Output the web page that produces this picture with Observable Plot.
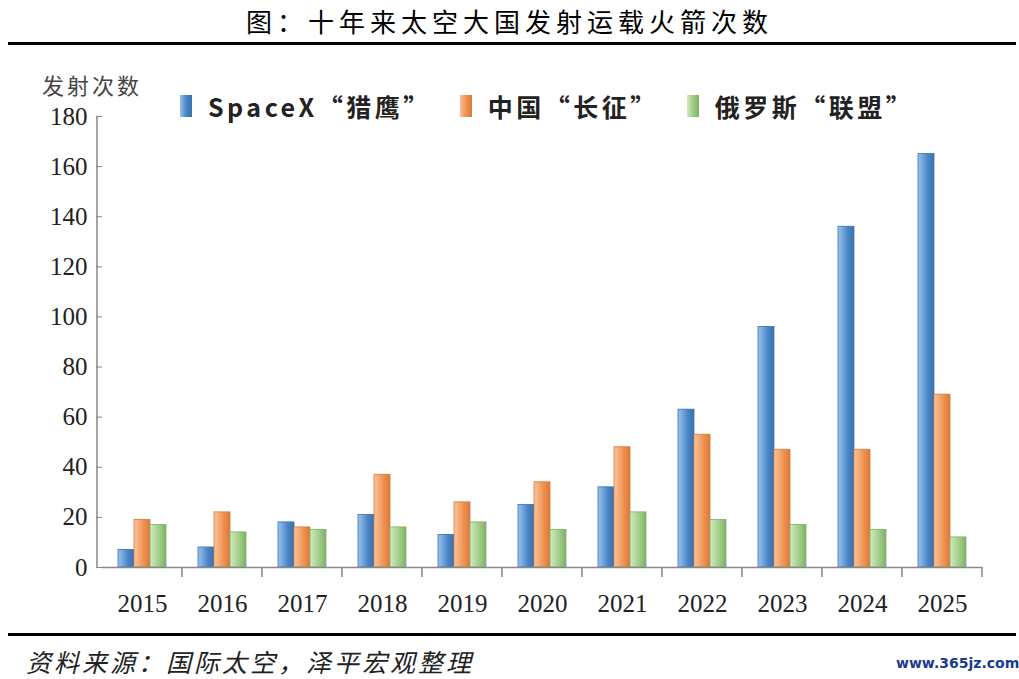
<!DOCTYPE html>
<html><head><meta charset="utf-8">
<script src="https://cdn.jsdelivr.net/npm/d3@7"></script>
<script src="https://cdn.jsdelivr.net/npm/@observablehq/plot@0.6"></script>
<style>
body{margin:0;background:#fff;}
#wrap{position:relative;width:1019px;height:679px;font-family:"Noto Sans CJK SC";}
.abs{position:absolute;white-space:nowrap;}
</style></head><body>
<div id="wrap">
<div class="abs" style="left:0;width:1019px;top:2px;text-align:center;font-size:26px;letter-spacing:5px;">图：十年来太空大国发射运载火箭次数</div>
<div class="abs" style="left:8px;width:1008px;top:42px;height:3px;background:#000"></div>
<div class="abs" style="left:42px;top:68px;font-size:22px;color:#444;letter-spacing:3px;">发射次数</div>
<div id="legend" class="abs" style="left:180px;top:88px;font-size:25px;font-weight:bold;color:#222;display:flex;letter-spacing:3.5px;"></div>
<div class="abs" style="left:8px;width:1008px;top:633px;height:3px;background:#000"></div>
<div class="abs" style="left:26px;top:643px;font-size:25px;font-style:italic;color:#222;letter-spacing:3px;">资料来源：国际太空，泽平宏观整理</div>
<div class="abs" style="left:896px;top:655px;font-size:14px;font-weight:bold;color:#1a3a8a;font-family:'DejaVu Sans'">www.365jz.com</div>
<div id="chart"></div>
</div>
<script>
const years=["2015","2016","2017","2018","2019","2020","2021","2022","2023","2024","2025"];
const seriesNames=["SpaceX“猎鹰”","中国“长征”","俄罗斯“联盟”"];
const spacex=[7,8,18,21,13,25,32,63,96,136,165];
const china=[19,22,16,37,26,34,48,53,47,47,69];
const russia=[17,14,15,16,18,15,22,19,17,15,12];
const yTicks=[0,20,40,60,80,100,120,140,160,180];
const colors=[["#9cc3ea","#4a86c8","#3a70b0"],["#f8c4a0","#f0914f","#d87a3a"],["#d3e8c0","#9fcd85","#7fb065"]];
const data=[];
[spacex,china,russia].forEach((arr,si)=>arr.forEach((v,i)=>data.push({year:years[i],s:seriesNames[si],si,v})));
const plot=Plot.plot({
  width:1019,height:679,marginLeft:97,marginRight:32,marginTop:116,marginBottom:112,
  style:{fontFamily:"Liberation Serif",fontSize:"25px",color:"#222",overflow:"visible"},
  fx:{domain:years,padding:0,label:null,tickSize:0,tickPadding:27},
  x:{domain:seriesNames,paddingInner:0,paddingOuter:1,axis:null},
  y:{domain:[0,180],ticks:yTicks,label:null,tickSize:6,tickPadding:9},
  marks:[
    Plot.barY(data,{fx:"year",x:"s",y:"v",fill:d=>`url(#g${d.si})`,stroke:d=>colors[d.si][2],strokeWidth:0.8,inset:0}),
    Plot.ruleY([0],{stroke:"#888",strokeWidth:1.5})
  ]
});
const svg=d3.select(plot);
const defs=svg.insert("defs",":first-child");
colors.forEach((c,i)=>{const g=defs.append("linearGradient").attr("id","g"+i).attr("x1",0).attr("x2",1).attr("y1",0).attr("y2",0);
g.append("stop").attr("offset","0%").attr("stop-color",c[0]);g.append("stop").attr("offset","60%").attr("stop-color",c[1]);g.append("stop").attr("offset","100%").attr("stop-color",c[2]);});
const fx=plot.scale("fx"),y=plot.scale("y");
const y0=y.apply(0),bw=fx.bandwidth;
const yr=y.range;
svg.append("line").attr("x1",97).attr("x2",97).attr("y1",yr[1]).attr("y2",y0).attr("stroke","#888").attr("stroke-width",1.5);
years.forEach((yy,i)=>{if(i===0)return;const x=fx.apply(yy);
svg.append("line").attr("x1",x).attr("x2",x).attr("y1",y0).attr("y2",y0+10).attr("stroke","#888").attr("stroke-width",1.5);});
const xe=fx.apply(years[years.length-1])+bw;
svg.append("line").attr("x1",xe).attr("x2",xe).attr("y1",y0).attr("y2",y0+10).attr("stroke","#888").attr("stroke-width",1.5);
svg.selectAll("g[aria-label='y-axis tick'] path").attr("stroke","#888");
document.getElementById("chart").appendChild(plot);
const lg=document.getElementById("legend");
seriesNames.forEach((n,i)=>{const s=document.createElement("span");s.style.marginRight="28px";s.style.display="flex";s.style.alignItems="center";
s.innerHTML=`<span style="display:inline-block;width:12px;height:22px;margin-right:16px;background:linear-gradient(90deg,${colors[i][0]},${colors[i][1]},${colors[i][2]})"></span>${n}`;lg.appendChild(s);});
</script></body></html>
